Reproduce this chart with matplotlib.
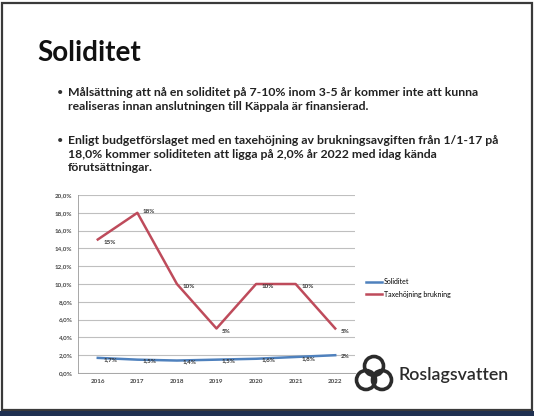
import matplotlib
matplotlib.use('Agg')
import matplotlib.pyplot as plt
from matplotlib.patches import Rectangle, Circle

plt.rcParams['font.family'] = ['Lato', 'DejaVu Sans']

years = ['2016', '2017', '2018', '2019', '2020', '2021', '2022']
soliditet = [1.7, 1.5, 1.4, 1.5, 1.6, 1.8, 2.0]
soliditet_labels = ['1,7%', '1,5%', '1,4%', '1,5%', '1,6%', '1,8%', '2%']
taxe = [15, 18, 10, 5, 10, 10, 5]
taxe_labels = ['15%', '18%', '10%', '5%', '10%', '10%', '5%']
yticks = [0, 2, 4, 6, 8, 10, 12, 14, 16, 18, 20]
legend_names = ['Soliditet', 'Taxehöjning brukning']

title = 'Soliditet'
bullets = [
    'Målsättning att nå en soliditet på 7-10% inom 3-5 år kommer inte att kunna\nrealiseras innan anslutningen till Käppala är finansierad.',
    'Enligt budgetförslaget med en taxehöjning av brukningsavgiften från 1/1-17 på\n18,0% kommer soliditeten att ligga på 2,0% år 2022 med idag kända\nförutsättningar.',
]

W, H = 534, 416
fig = plt.figure(figsize=(W / 100, H / 100), dpi=100)
fig.patch.set_facecolor('white')

# slide frame
fig.patches.append(Rectangle((2 / W, 6 / H), 1 - 4 / W, 1 - 9 / H, transform=fig.transFigure,
                             fill=False, edgecolor='#3a3a3a', lw=1.6))
fig.patches.append(Rectangle((0, 0), 1, 5 / H, transform=fig.transFigure,
                             facecolor='#1f3050', edgecolor='none'))

fig.text(37 / W, 1 - 53 / H, title, fontsize=20, fontweight='bold', va='center', color='#111111')
yy = [93, 141]
for y, b in zip(yy, bullets):
    fig.text(57 / W, 1 - y / H, '•', fontsize=8, va='center', color='#333333')
    fig.text(68 / W, 1 - (y - 6) / H, b, fontsize=8.8, fontweight='bold', va='top',
             color='#222222', linespacing=1.3)

ax = fig.add_axes([78 / W, 1 - 373 / H, 277 / W, 178 / H])
x = list(range(len(years)))
l1, = ax.plot(x, soliditet, color='#4F81BD', lw=1.8)
l2, = ax.plot(x, taxe, color='#BE4B5B', lw=1.8)
for i in x:
    ax.annotate(soliditet_labels[i], (i, soliditet[i]), xytext=(4, -1), textcoords='offset points',
                fontsize=4.5, fontweight='bold', color='#333333', va='center')
    ax.annotate(taxe_labels[i], (i, taxe[i]), xytext=(4, -2 if taxe[i] < 16 else 1),
                textcoords='offset points', fontsize=4.5, fontweight='bold', color='#333333', va='center')

ax.set_xlim(-0.5, len(years) - 0.5)
ax.set_ylim(0, 20)
ax.set_yticks(yticks)
ax.set_yticklabels([f'{v:.1f}%'.replace('.', ',') for v in yticks])
ax.set_xticks(x)
ax.set_xticklabels(years)
ax.tick_params(labelsize=4.5, length=0, pad=4, labelcolor='#444444')
for t in ax.get_xticklabels() + ax.get_yticklabels():
    t.set_fontweight('bold')
ax.grid(axis='y', color='#bfbfbf', lw=0.8)
ax.set_axisbelow(True)
for s in ['top', 'right']:
    ax.spines[s].set_visible(False)
ax.spines['left'].set_color('#999999')
ax.spines['bottom'].set_color('#999999')
ax.spines['left'].set_linewidth(0.6)
ax.spines['bottom'].set_linewidth(0.6)

fig.legend([l1, l2], legend_names, loc='center left', bbox_to_anchor=(360 / W, 1 - 288 / H),
           frameon=False, fontsize=5, handlelength=2.2, labelspacing=0.8, handletextpad=0.3)

# logo
cx, cy = 374, H - 374
for dx, dy in [(0, 8), (-8, -6), (8, -6)]:
    fig.patches.append(Circle((cx + dx, cy + dy), 9.5, transform=None, fill=False,
                              edgecolor='#2b2b2b', lw=2.6))
fig.text(398 / W, 1 - 375 / H, 'Roslagsvatten', fontsize=12.8, va='center', color='#2b2b2b',
         fontweight='semibold')

fig.savefig('out.png', dpi=100)
